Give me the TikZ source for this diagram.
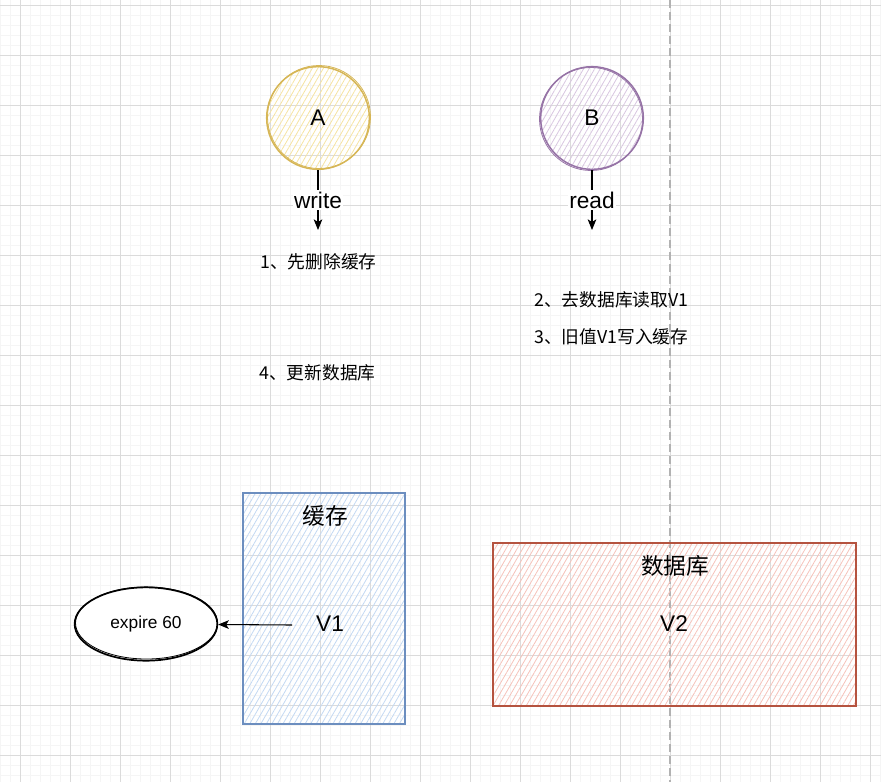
\documentclass[tikz,border=0pt]{standalone}
\usepackage{fontspec}
\setmainfont{Liberation Sans}
\newfontfamily\cjk{Noto Sans CJK SC}
\usetikzlibrary{arrows.meta,shapes.geometric,patterns.meta}
\definecolor{strokeA}{HTML}{D6B656}
\definecolor{hatchA}{HTML}{F5E3A2}
\definecolor{strokeB}{HTML}{9673A6}
\definecolor{hatchB}{HTML}{D8C6E0}
\definecolor{strokeC}{HTML}{6C8EBF}
\definecolor{hatchC}{HTML}{C3D8F2}
\definecolor{strokeD}{HTML}{B5533F}
\definecolor{hatchD}{HTML}{F5C2BA}
\tikzset{
  minorgrid/.style={draw=black!4,line width=0.75pt},
  majorgrid/.style={draw=black!14,line width=0.75pt},
  hatch/.style={pattern={Lines[angle=60,distance=3.6pt,line width=0.6pt]}},
  person/.style={circle,hatch,line width=1.1pt,minimum size=77pt,inner sep=0pt,font=\fontsize{17}{20}\selectfont},
  store/.style={rectangle,hatch,line width=1.1pt,inner sep=0pt},
  tag/.style={fill=white,inner sep=1pt,font=\fontsize{17}{20}\selectfont},
  lbl/.style={inner sep=0pt,font=\fontsize{17}{20}\selectfont},
  stepnote/.style={anchor=west,inner sep=0pt,font=\cjk\fontsize{13.3}{16}\selectfont},
  flow/.style={-{Stealth[length=8pt,width=6.5pt,inset=2pt]},line width=0.8pt}
}
\begin{document}
\begin{tikzpicture}[x=0.75pt,y=-0.75pt]
\useasboundingbox (0,0) rectangle (881,782);
\foreach \x in {0,10,...,880} \draw[minorgrid] (\x,0)--(\x,782);
\foreach \y in {5,15,...,775} \draw[minorgrid] (0,\y)--(881,\y);
\foreach \x in {20,70,...,870} \draw[majorgrid] (\x,0)--(\x,782);
\foreach \y in {5,55,...,755} \draw[majorgrid] (0,\y)--(881,\y);
\draw[black!30,line width=0.9pt,dash pattern=on 6pt off 3pt] (670,0)--(670,782);

\node[person,draw=strokeA,pattern color=hatchA] (A) at (318,118) {A};
\node[person,draw=strokeB,pattern color=hatchB] (B) at (592,118) {B};
\draw[strokeA,line width=0.6pt] (319,117) circle (51.5);
\draw[strokeB,line width=0.6pt] (591,119) circle (51.5);
\coordinate (wA) at (318,230);
\coordinate (rB) at (592,230);
\draw[flow] (A) -- node[tag]{write} (wA);
\draw[flow] (B) -- node[tag]{read} (rB);

\node[stepnote] (s1) at (260,262) {1、先删除缓存};
\node[stepnote] (s2) at (534,300) {2、去数据库读取V1};
\node[stepnote] (s3) at (534,337) {3、旧值V1写入缓存};
\node[stepnote] (s4) at (259,373) {4、更新数据库};

\node[store,draw=strokeC,pattern color=hatchC,minimum width=121.5pt,minimum height=173pt] (cache) at (324,608.5) {};
\node[store,draw=strokeD,pattern color=hatchD,minimum width=272pt,minimum height=122pt] (db) at (674.5,624.5) {};
\node[lbl,font=\cjk\fontsize{17}{20}\selectfont] (cname) at (325,516) {缓存};
\node[lbl] (v1) at (330,624) {V1};
\node[lbl,font=\cjk\fontsize{17}{20}\selectfont] (dname) at (675,566) {数据库};
\node[lbl] (v2) at (674,624) {V2};

\node[ellipse,draw,line width=1.3pt,fill=white,minimum width=107pt,minimum height=55pt,inner sep=0pt,font=\fontsize{13}{16}\selectfont] (exp) at (146,624) {expire 60};
\draw[line width=0.6pt] (146.5,623) ellipse (71 and 36);
\coordinate (v1tail) at (292,625);
\draw[flow] (v1tail) -- (exp);
\end{tikzpicture}
\end{document}
